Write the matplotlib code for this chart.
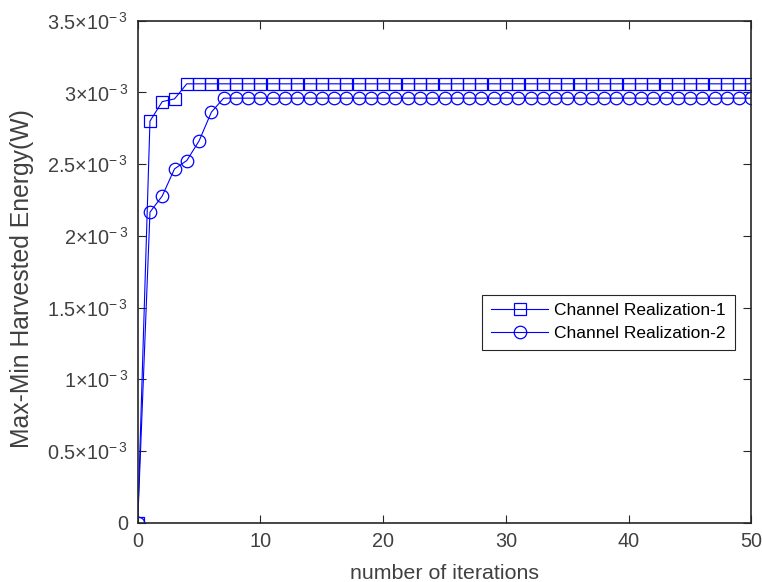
import matplotlib.pyplot as plt
import numpy as np

plt.rcParams['font.family'] = ['Liberation Sans', 'DejaVu Sans']
plt.rcParams['mathtext.fontset'] = 'custom'
plt.rcParams['mathtext.rm'] = 'Liberation Sans'
plt.rcParams['mathtext.it'] = 'Liberation Sans:italic'

# iterations 0..50
iters = np.arange(0, 51)
# channel realization 1 (first values, then flat)
r1_head = [0.0, 2.80e-3, 2.936e-3, 2.955e-3]
r1_flat = 3.06e-3
# channel realization 2
r2_head = [0.0, 2.165e-3, 2.278e-3, 2.467e-3, 2.525e-3, 2.662e-3, 2.862e-3]
r2_flat = 2.96e-3

r1 = r1_head + [r1_flat] * (len(iters) - len(r1_head))
r2 = r2_head + [r2_flat] * (len(iters) - len(r2_head))

yticks = np.arange(0, 3.51e-3, 0.5e-3)
ylabels = ['0', r'$0.5{\times}10^{-\,3}$', r'$1{\times}10^{-\,3}$', r'$1.5{\times}10^{-\,3}$',
           r'$2{\times}10^{-\,3}$', r'$2.5{\times}10^{-\,3}$', r'$3{\times}10^{-\,3}$',
           r'$3.5{\times}10^{-\,3}$']

txt = '#404040'
fig = plt.figure(figsize=(7.62, 5.82), dpi=100)
ax = fig.add_axes([0.1807, 0.1019, 0.8055, 0.8625])

ax.plot(iters, r1, color='b', lw=0.8, marker='s', ms=8, mfc='none', mew=0.9,
        label='Channel Realization-1')
ax.plot(iters, r2, color='b', lw=0.8, marker='o', ms=9, mfc='none', mew=0.9,
        label='Channel Realization-2')

ax.set_xlim(0, 50)
ax.set_ylim(0, 3.5e-3)
ax.set_xticks([0, 10, 20, 30, 40, 50])
ax.set_yticks(yticks)
ax.set_yticklabels(ylabels)
ax.tick_params(direction='in', top=True, right=True, labelsize=14.3, colors='#262626',
               labelcolor=txt, length=6)
ax.tick_params(axis='y', pad=7)
ax.tick_params(axis='x', pad=7)
for s in ax.spines.values():
    s.set_color('#262626')
    s.set_linewidth(1.2)

ax.set_xlabel('number of iterations', fontsize=15.4, color=txt, labelpad=9)
ax.set_ylabel('Max-Min Harvested Energy(W)', fontsize=17.8, color=txt)
ax.yaxis.set_label_coords(-0.169, 0.487)

leg = ax.legend(loc='center', bbox_to_anchor=(0.767, 0.399), fontsize=12.5,
                fancybox=False, framealpha=1, edgecolor='#262626',
                handlelength=3.3, handletextpad=0.35, borderpad=0.5, labelspacing=0.45)
leg.get_frame().set_linewidth(0.8)

plt.savefig('out.png', dpi=100)
